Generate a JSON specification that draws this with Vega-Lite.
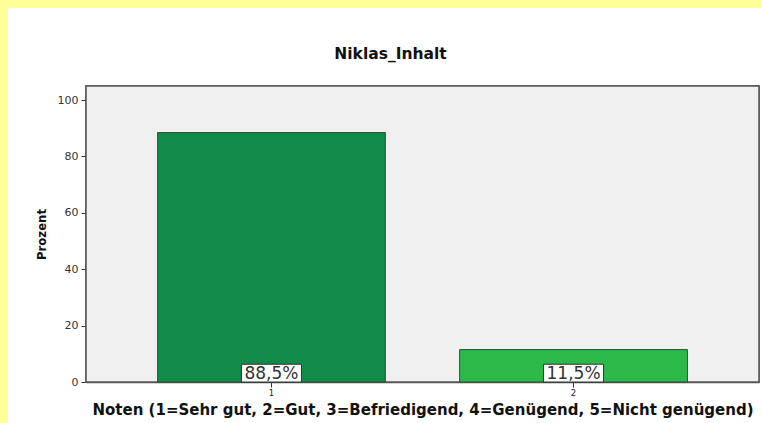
{
  "$schema": "https://vega.github.io/schema/vega-lite/v6.json",
  "width": 673,
  "height": 296,
  "autosize": {"type": "none"},
  "padding": {"left": 86, "top": 86, "right": 3, "bottom": 41},
  "background": "#ffff99",
  "config": {
    "view": {"fill": "white", "stroke": "white", "strokeWidth": 156, "strokeJoin": "miter", "strokeMiterLimit": 10},
    "font": "DejaVu Sans"
  },
  "title": {
    "text": "Niklas_Inhalt",
    "fontSize": 15.5,
    "fontWeight": "bold",
    "font": "DejaVu Sans",
    "color": "#111111",
    "anchor": "middle",
    "frame": "group",
    "dx": -32,
    "offset": 23
  },
  "data": {
    "values": [
      {"Note": "1", "Prozent": 88.5, "Label": "88,5%"},
      {"Note": "2", "Prozent": 11.5, "Label": "11,5%"}
    ]
  },
  "layer": [
    {
      "mark": {"type": "rect", "fill": "#f0f0f0", "stroke": "#555555", "strokeWidth": 1.5},
      "encoding": {}
    },
    {
      "mark": {"type": "bar", "stroke": "#2f4f3a", "strokeWidth": 1},
      "encoding": {
        "x": {
          "field": "Note",
          "type": "ordinal",
          "scale": {"paddingInner": 0.246, "paddingOuter": 0.237},
          "axis": {
            "title": "Noten (1=Sehr gut, 2=Gut, 3=Befriedigend, 4=Genügend, 5=Nicht genügend)",
            "titleFont": "DejaVu Sans",
            "titleFontSize": 15,
            "titleFontWeight": "bold",
            "titleColor": "#111111",
            "titlePadding": 6,
            "labelAngle": 0,
            "labelFont": "DejaVu Sans",
            "labelFontSize": 8.5,
            "labelColor": "#222222",
            "labelPadding": 1,
            "tickSize": 5,
            "tickColor": "#333333",
            "domainColor": "#555555",
            "domainWidth": 1.5
          }
        },
        "y": {
          "field": "Prozent",
          "type": "quantitative",
          "scale": {"domain": [0, 105], "nice": false},
          "axis": {
            "title": "Prozent",
            "titleFont": "DejaVu Sans Condensed",
            "titleFontSize": 13,
            "titleFontWeight": "bold",
            "titleColor": "#111111",
            "titlePadding": 9,
            "values": [0, 20, 40, 60, 80, 100],
            "grid": false,
            "labelFont": "DejaVu Sans",
            "labelFontSize": 11,
            "labelColor": "#333333",
            "labelPadding": 3,
            "tickSize": 5,
            "tickColor": "#333333",
            "domainColor": "#555555",
            "domainWidth": 1.5
          }
        },
        "color": {
          "field": "Note",
          "type": "nominal",
          "scale": {"range": ["#128a48", "#2db84a"]},
          "legend": null
        }
      }
    },
    {
      "mark": {"type": "bar", "width": 60, "fill": "white", "stroke": "#333333", "strokeWidth": 1},
      "encoding": {
        "x": {"field": "Note", "type": "ordinal"},
        "y": {"datum": 6.3, "type": "quantitative"}
      }
    },
    {
      "mark": {"type": "text", "font": "DejaVu Sans", "fontSize": 17, "color": "#333333", "baseline": "alphabetic", "dy": -3},
      "encoding": {
        "x": {"field": "Note", "type": "ordinal"},
        "y": {"datum": 0, "type": "quantitative"},
        "text": {"field": "Label"}
      }
    }
  ]
}
